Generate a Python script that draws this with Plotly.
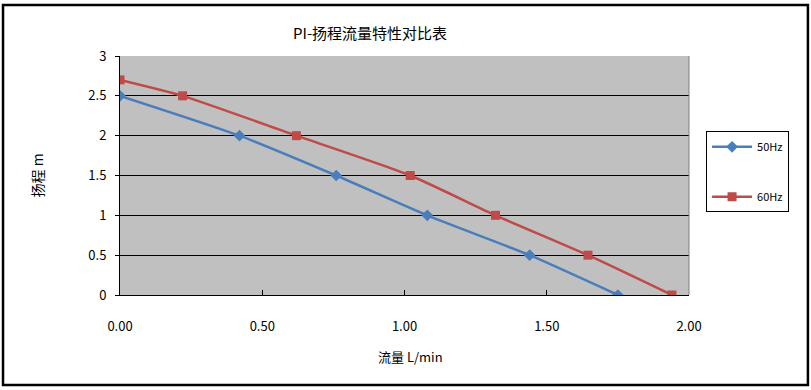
import plotly.graph_objects as go

flow_50 = [0.0, 0.42, 0.76, 1.08, 1.44, 1.75]
head_50 = [2.5, 2.0, 1.5, 1.0, 0.5, 0.0]
flow_60 = [0.0, 0.22, 0.62, 1.02, 1.32, 1.645, 1.94]
head_60 = [2.7, 2.5, 2.0, 1.5, 1.0, 0.5, 0.0]
x_ticks = [0, 0.5, 1.0, 1.5, 2.0]
x_tick_labels = ["0.00", "0.50", "1.00", "1.50", "2.00"]
y_ticks = [0, 0.5, 1, 1.5, 2, 2.5, 3]
y_tick_labels = ["0", "0.5", "1", "1.5", "2", "2.5", "3"]

BLUE = "#4A7EBB"
RED = "#BE4B48"
FONT = "Noto Sans CJK SC"

fig = go.Figure()
fig.add_trace(go.Scatter(x=flow_50, y=head_50, name="50Hz", mode="lines+markers",
                         line=dict(color=BLUE, width=2.5, shape="spline", smoothing=0.6),
                         marker=dict(symbol="diamond", size=9, color=BLUE),
                         legendgroup="a"))
fig.add_trace(go.Scatter(x=flow_60, y=head_60, name="60Hz", mode="lines+markers",
                         line=dict(color=RED, width=2.5, shape="spline", smoothing=0.6),
                         marker=dict(symbol="square", size=9, color=RED),
                         legendgroup="b"))

fig.update_layout(
    width=811, height=390,
    margin=dict(l=120, r=122, t=56, b=95),
    paper_bgcolor="white",
    plot_bgcolor="#C0C0C0",
    font=dict(family=FONT, size=12, color="#000000"),
    showlegend=True,
    legend=dict(x=1.03, y=0.685, xanchor="left", yanchor="top",
                bordercolor="#000000", borderwidth=1, bgcolor="white",
                font=dict(size=11, family=FONT),
                tracegroupgap=31, itemwidth=40),
    xaxis=dict(range=[0, 2], tickvals=x_ticks, ticktext=x_tick_labels,
               showgrid=False, zeroline=False, showline=True, linecolor="#000000",
               linewidth=1, ticks="inside", ticklen=5, tickcolor="#000000",
               ticklabelstandoff=19,
               tickfont=dict(size=13, family=FONT), mirror=False),
    yaxis=dict(range=[0, 3], tickvals=y_ticks, ticktext=y_tick_labels,
               showgrid=True, gridcolor="#000000", gridwidth=1, zeroline=False,
               showline=True, linecolor="#000000", linewidth=1,
               ticks="outside", ticklen=4, tickcolor="#000000",
               ticklabelstandoff=6,
               tickfont=dict(size=13, family=FONT)),
    annotations=[
        dict(text="PI-扬程流量特性对比表", x=0.439, y=1.10, xref="paper", yref="paper",
             xanchor="center", yanchor="middle",
             showarrow=False, font=dict(size=15, family=FONT)),
        dict(text="扬程 m", x=-0.146, y=0.5, xref="paper", yref="paper",
             xanchor="center", yanchor="middle",
             showarrow=False, textangle=-90, font=dict(size=14, family=FONT)),
        dict(text="流量 L/min", x=0.51, y=-0.259, xref="paper", yref="paper",
             xanchor="center", yanchor="middle",
             showarrow=False, font=dict(size=13, family=FONT)),
    ],
    shapes=[
        dict(type="rect", xref="paper", yref="paper", x0=-0.2056, x1=1.209,
             y0=-0.3766, y1=1.213, line=dict(color="#000000", width=2.5)),
        dict(type="line", xref="paper", yref="paper", x0=1, x1=1, y0=0, y1=1,
             line=dict(color="#808080", width=1)),
    ],
)

fig.write_html("out.html", config={"displayModeBar": False},
               post_script="document.body.style.margin='0';")
